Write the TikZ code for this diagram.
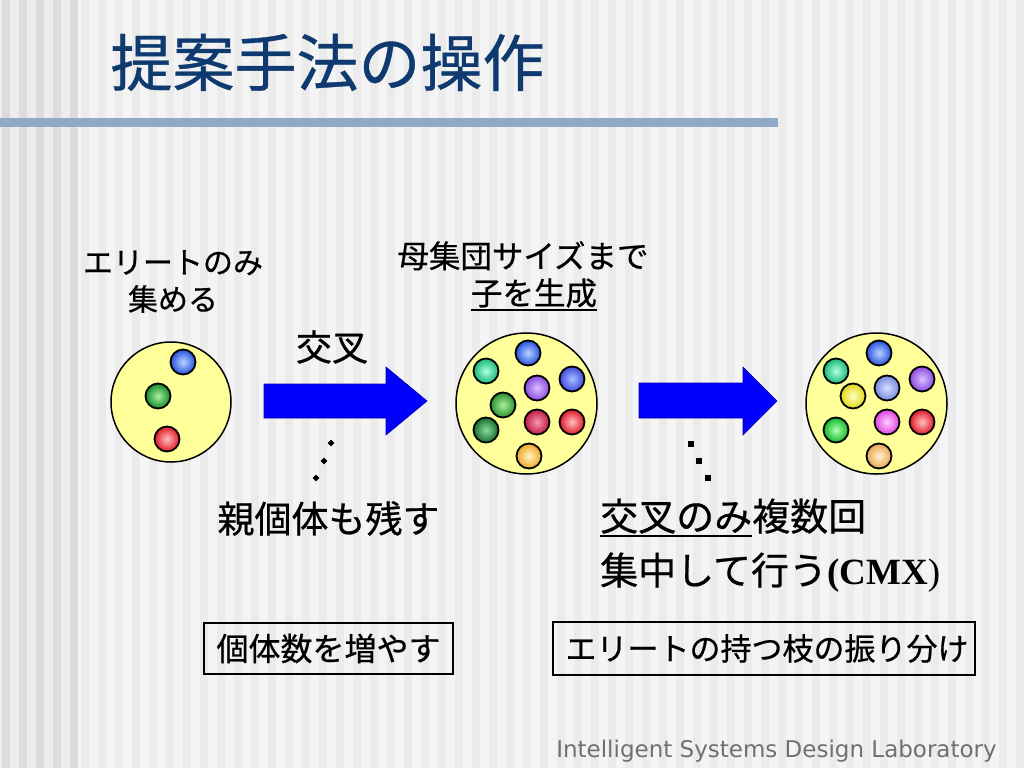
\documentclass[tikz,border=0pt]{standalone}
\usepackage{fontspec}
\usetikzlibrary{shapes.geometric}
\setmainfont{Noto Sans CJK JP}[FakeBold=0.6]
\newfontfamily\tnr{Liberation Serif}
\newfontfamily\dv{DejaVu Sans}
\newsavebox\ulbox
\newcommand\myul[1]{\sbox\ulbox{#1}\rlap{\raisebox{-6pt}{\rule{\wd\ulbox}{1.6pt}}}\usebox\ulbox}
\definecolor{bgbase}{HTML}{F4F4F4}
\definecolor{bgstripe}{HTML}{EBEBEB}
\definecolor{bgleft}{HTML}{EDEDED}
\definecolor{bgleftstripe}{HTML}{DCDCDC}
\definecolor{titleblue}{RGB}{14,58,112}
\definecolor{barblue}{HTML}{8FA9C6}
\definecolor{poolfill}{HTML}{FFFF99}
\definecolor{arrowblue}{HTML}{0000FF}
\definecolor{footgray}{HTML}{707070}
% ball colours: inner / outer
\definecolor{blueI}{HTML}{B8D4FF}\definecolor{blueO}{HTML}{2850E0}
\definecolor{greenI}{HTML}{A8F0A0}\definecolor{greenO}{HTML}{158A2A}
\definecolor{redI}{HTML}{FFC0C0}\definecolor{redO}{HTML}{E01828}
\definecolor{tealI}{HTML}{B0FFE0}\definecolor{tealO}{HTML}{18B878}
\definecolor{purpI}{HTML}{DCC0FF}\definecolor{purpO}{HTML}{8A48E0}
\definecolor{bpurpI}{HTML}{A8C0FF}\definecolor{bpurpO}{HTML}{4048E0}
\definecolor{mgreenI}{HTML}{A8F098}\definecolor{mgreenO}{HTML}{2A9030}
\definecolor{dgreenI}{HTML}{90D8A0}\definecolor{dgreenO}{HTML}{12702A}
\definecolor{crimI}{HTML}{F898B0}\definecolor{crimO}{HTML}{C01840}
\definecolor{oranI}{HTML}{FFF4C8}\definecolor{oranO}{HTML}{F0A820}
\definecolor{yellI}{HTML}{FFFFC8}\definecolor{yellO}{HTML}{E0D810}
\definecolor{periI}{HTML}{D8E0FF}\definecolor{periO}{HTML}{7888E0}
\definecolor{bgreenI}{HTML}{B0FFB0}\definecolor{bgreenO}{HTML}{10B828}
\definecolor{pinkI}{HTML}{FFD0FF}\definecolor{pinkO}{HTML}{E040E0}
\definecolor{oran2I}{HTML}{FFF0D0}\definecolor{oran2O}{HTML}{E8A850}
\tikzset{
  pool/.style={circle, draw=black, line width=1.5pt, fill=poolfill, minimum size=120pt, inner sep=0pt},
  bigpool/.style={pool, minimum size=141pt},
  ball/.style={circle, minimum size=25pt, inner sep=0pt, line width=1.8pt, draw=black, inner color=#1I, outer color=#1O},
  blockarrow/.style={fill=arrowblue, draw=arrowblue!70!black, line width=0.6pt},
  txt/.style={inner sep=0pt, font=\fontsize{30}{37}\selectfont, align=center},
  boxed/.style={draw=black, line width=2.5pt, inner sep=0pt, font=\fontsize{32}{38}\selectfont},
  dotmark/.style={fill=black, inner sep=0pt},
}
\begin{document}
\begin{tikzpicture}[x=1pt, y=-1pt]
\useasboundingbox (0,0) rectangle (1024,768);
% background
\fill[bgbase] (0,0) rectangle (1024,768);
\foreach \x in {77,94,...,1024} \fill[bgstripe] (\x+4,0) rectangle (\x+12,768);
\fill[bgleft] (0,0) rectangle (77,768);
\foreach \x in {0,17,34,51,68} \fill[bgleftstripe] (\x+2,0) rectangle (\x+10,768);
% title
\node[inner sep=0pt, text=titleblue, font=\fontsize{62}{70}\selectfont] (title) at (327.5,62.5) {提案手法の操作};
\fill[barblue] (0,118) rectangle (778,127);
% pools
\node[pool] (p1) at (171,402) {};
\node[bigpool] (p2) at (526.5,403.5) {};
\node[bigpool] (p3) at (876.5,403.5) {};
% balls pool 1
\node[ball=blue] (a1) at (183,362) {};
\node[ball=green] (a2) at (158,396) {};
\node[ball=red] (a3) at (167,439) {};
% balls pool 2
\node[ball=blue] (b1) at (528,353) {};
\node[ball=teal] (b2) at (486,371) {};
\node[ball=purp] (b3) at (537,388) {};
\node[ball=bpurp] (b4) at (572,379) {};
\node[ball=mgreen] (b5) at (503,405) {};
\node[ball=dgreen] (b6) at (486,430) {};
\node[ball=crim] (b7) at (537,422) {};
\node[ball=red] (b8) at (572,422) {};
\node[ball=oran] (b9) at (529,456) {};
% balls pool 3
\node[ball=blue] (c1) at (879,353) {};
\node[ball=teal] (c2) at (836,371) {};
\node[ball=yell] (c3) at (853,396) {};
\node[ball=peri] (c4) at (887,388) {};
\node[ball=purp] (c5) at (922,379) {};
\node[ball=bgreen] (c6) at (836,430) {};
\node[ball=pink] (c7) at (887,422) {};
\node[ball=red] (c8) at (922,422) {};
\node[ball=oran2] (c9) at (879,456) {};
% block arrows
\coordinate (ar1) at (264,401);
\coordinate (ar2) at (639,401);
\draw[blockarrow] (ar1) ++(0,-17) -- ++(122,0) -- ++(0,-17) -- (427,401) -- (386,435) -- ++(0,-17) -- ++(-122,0) -- cycle;
\draw[blockarrow] (ar2) ++(0,-18) -- ++(104,0) -- ++(0,-16) -- (777,401) -- (743,435) -- ++(0,-17) -- ++(-104,0) -- cycle;
% dots
\node[dotmark, diamond, minimum size=7pt, shape aspect=1] (d1) at (331,443) {};
\node[dotmark, diamond, minimum size=7pt, shape aspect=1] (d2) at (324,461) {};
\node[dotmark, diamond, minimum size=7pt, shape aspect=1] (d3) at (316,478) {};
\node[dotmark, rectangle, minimum size=5.5pt] (e1) at (691,444) {};
\node[dotmark, rectangle, minimum size=5.5pt] (e2) at (699,461) {};
\node[dotmark, rectangle, minimum size=5.5pt] (e3) at (708,478) {};
% labels
\node[txt] (t1) at (173,281.5) {エリートのみ\\集める};
\node[txt, font=\fontsize{31.5}{37}\selectfont] (t2) at (523,276) {母集団サイズまで\\\hspace*{22pt}\myul{子を生成}};
\node[txt, font=\fontsize{36}{40}\selectfont] (t3) at (332,347) {交叉};
\node[txt, font=\fontsize{37}{40}\selectfont] (t4) at (328.5,518.5) {親個体も残す};
\node[txt, align=left, anchor=west, font=\fontsize{38}{54}\selectfont] (t5) at (600,545.5) {\myul{交叉のみ}複数回\\集中して行う{\tnr\fontsize{37}{54}\selectfont\bfseries(CMX}{\tnr\fontsize{37}{54}\selectfont)}};
\node[boxed, minimum width=249pt, minimum height=51pt] (k1) at (328.5,648.5) {個体数を増やす};
\node[boxed, minimum width=422pt, minimum height=53pt, font=\fontsize{31}{38}\selectfont] (k2) at (764,648.5) {\hspace*{6pt}エリートの持つ枝の振り分け};
% footer
\node[inner sep=0pt, text=footgray, font=\dv\fontsize{23}{26}\selectfont, anchor=base] (foot) at (776.5,757) {Intelligent Systems Design Laboratory};
\end{tikzpicture}
\end{document}
